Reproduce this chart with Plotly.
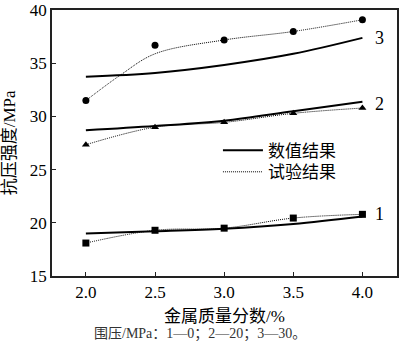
import plotly.graph_objects as go

# metal mass fraction (%)
x_vals = [2.0, 2.5, 3.0, 3.5, 4.0]

# numerical results (MPa) for confining pressures 0, 20, 30 MPa
num_1 = [19.0, 19.2, 19.45, 19.9, 20.6]
num_2 = [28.7, 29.1, 29.6, 30.5, 31.4]
num_3 = [33.75, 34.1, 34.85, 35.9, 37.4]

# experimental results (MPa)
exp_1 = [18.1, 19.3, 19.5, 20.45, 20.8]
exp_2 = [27.35, 29.0, 29.45, 30.3, 30.8]
exp_3 = [31.5, 36.7, 37.2, 38.0, 39.1]

# fitted dotted curve for curve 3
fit3_x = [2.0, 2.25, 2.5, 3.0, 3.5, 4.0]
fit3_y = [31.5, 33.9, 35.9, 37.2, 38.0, 39.1]

curve_labels = ["1", "2", "3"]
label_y = [20.8, 31.2, 37.4]

legend_names = ["数值结果", "试验结果"]
x_title = "金属质量分数/%"
y_title = "抗压强度/MPa"
caption = "围压/MPa：1—0；2—20；3—30。"

FONT = "Liberation Serif, 'Noto Sans CJK SC', serif"
DOT = "1px,1px"

fig = go.Figure()

for ys in (num_1, num_2, num_3):
    fig.add_trace(go.Scatter(x=x_vals, y=ys, mode="lines",
                             line=dict(color="black", width=2, shape="spline"),
                             showlegend=False, hoverinfo="skip"))

fig.add_trace(go.Scatter(x=x_vals, y=exp_1, mode="lines+markers",
                         line=dict(color="black", width=1, dash=DOT, shape="spline"),
                         marker=dict(symbol="square", size=7, color="black"),
                         showlegend=False))
fig.add_trace(go.Scatter(x=x_vals, y=exp_2, mode="lines+markers",
                         line=dict(color="black", width=1, dash=DOT, shape="spline"),
                         marker=dict(symbol="triangle-up", size=7, color="black"),
                         showlegend=False))
fig.add_trace(go.Scatter(x=fit3_x, y=fit3_y, mode="lines",
                         line=dict(color="black", width=1, dash=DOT, shape="spline"),
                         showlegend=False))
fig.add_trace(go.Scatter(x=x_vals, y=exp_3, mode="markers",
                         marker=dict(symbol="circle", size=7, color="black"),
                         showlegend=False))

# legend entries (two separate legends for tight row spacing)
fig.add_trace(go.Scatter(x=[None], y=[None], mode="lines", name=legend_names[0],
                         line=dict(color="black", width=2), legend="legend"))
fig.add_trace(go.Scatter(x=[None], y=[None], mode="lines", name=legend_names[1],
                         line=dict(color="black", width=1, dash=DOT), legend="legend2"))

for lab, ly in zip(curve_labels, label_y):
    fig.add_annotation(x=4.12, y=ly, text=lab, showarrow=False,
                       xanchor="center", yanchor="middle",
                       font=dict(family=FONT, size=18, color="black"))

fig.add_annotation(x=0.5, y=-0.152, xref="paper", yref="paper", text=x_title,
                   showarrow=False, xanchor="center", yanchor="middle",
                   font=dict(family=FONT, size=17, color="black"))
fig.add_annotation(x=-0.124, y=0.5, xref="paper", yref="paper", text=y_title,
                   showarrow=False, textangle=-90, xanchor="center", yanchor="middle",
                   font=dict(family=FONT, size=17, color="black"))
fig.add_annotation(x=0.43, y=-0.217, xref="paper", yref="paper", text=caption,
                   showarrow=False, xanchor="center", yanchor="middle",
                   font=dict(family=FONT, size=14, color="#333333"))

leg_common = dict(x=0.481, xanchor="left", yanchor="middle",
                  bgcolor="rgba(0,0,0,0)", font=dict(family=FONT, size=17),
                  itemwidth=40, borderwidth=0)

fig.update_layout(
    width=400, height=351,
    margin=dict(l=52, r=1, t=4, b=75),
    paper_bgcolor="white", plot_bgcolor="white",
    font=dict(family=FONT, size=16, color="black"),
    legend=dict(y=0.471, **leg_common),
    legend2=dict(y=0.390, **leg_common),
    showlegend=True,
)
fig.update_xaxes(range=[1.755, 4.25], tickvals=[2.0, 2.5, 3.0, 3.5, 4.0],
                 ticktext=["2.0", "2.5", "3.0", "3.5", "4.0"],
                 showgrid=False, zeroline=False, showline=True, mirror=True,
                 linecolor="#222", linewidth=1.5, ticks="inside", ticklen=4,
                 tickcolor="#222", tickfont=dict(family=FONT, size=17),
                 ticklabeloverflow="allow")
fig.update_yaxes(range=[15, 40.02], tickvals=[15, 20, 25, 30, 35, 40],
                 showgrid=False, zeroline=False, showline=True, mirror=True,
                 linecolor="#222", linewidth=1.5, ticks="inside", ticklen=4,
                 tickcolor="#222", tickfont=dict(family=FONT, size=17),
                 ticklabeloverflow="allow")

fig.write_html("out.html")
